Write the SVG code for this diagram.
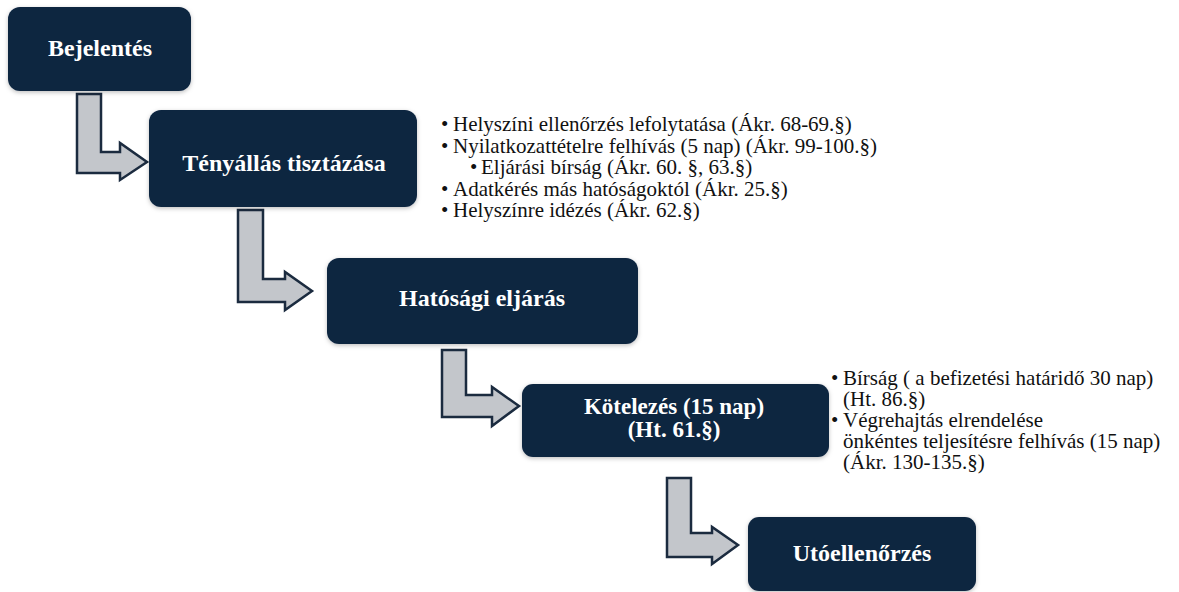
<svg xmlns="http://www.w3.org/2000/svg" width="1179" height="592" viewBox="0 0 1179 592">
<style>
.box{fill:#0d2641;}
.bt{font-family:"Liberation Serif","Times New Roman",serif;font-weight:bold;font-size:24px;fill:#ffffff;text-anchor:middle;}
.bt2{font-size:23px;}
.arr{fill:#c3c6cb;stroke:#1b2b3f;stroke-width:2.5;stroke-linejoin:miter;}
.tx{font-family:"Liberation Serif","Times New Roman",serif;font-size:21px;fill:#111111;}
</style>
<defs>
<filter id="sh" x="-10%" y="-10%" width="120%" height="130%">
<feDropShadow dx="0" dy="1.5" stdDeviation="2" flood-color="#000" flood-opacity="0.25"/>
</filter>
</defs>
<rect width="1179" height="592" fill="#ffffff"/>
<g id="connectors">
<path class="arr" d="M77,94 H101 V152 H120 V143 L147,162 L120,180 V173 H77 Z"/>
<path class="arr" d="M238,210 H263 V279 H285 V272 L312,291 L285,310 V302 H238 Z"/>
<path class="arr" d="M442,350 H466 V395 H492 V387 L519,406 L492,426 V417 H442 Z"/>
<path class="arr" d="M667,478 H691 V533 H712 V527 L738,545 L712,564 V557 H667 Z"/>
</g>
<g id="node-bejelentes">
<rect class="box" x="8" y="7" width="183" height="84" rx="12" filter="url(#sh)"/>
<text class="bt" x="100" y="56">Bejelentés</text>
</g>
<g id="node-tenyallas">
<rect class="box" x="149" y="110" width="268" height="97" rx="12" filter="url(#sh)"/>
<text class="bt" x="284" y="171">Tényállás tisztázása</text>
</g>
<g id="node-hatosagi">
<rect class="box" x="327" y="258" width="311" height="86" rx="12" filter="url(#sh)"/>
<text class="bt" x="482" y="306">Hatósági eljárás</text>
</g>
<g id="node-kotelezes">
<rect class="box" x="522" y="384" width="307" height="73" rx="11" filter="url(#sh)"/>
<text class="bt bt2"><tspan x="674" y="414">Kötelezés (15 nap)</tspan><tspan x="674" y="437">(Ht. 61.§)</tspan></text>
</g>
<g id="node-utoellenorzes">
<rect class="box" x="748" y="517" width="228" height="74" rx="11" filter="url(#sh)"/>
<text class="bt" x="862" y="561">Utóellenőrzés</text>
</g>
<g id="notes-tenyallas">
<text class="tx"><tspan x="441" y="131">•</tspan><tspan x="453" y="131">Helyszíni ellenőrzés lefolytatása (Ákr. 68-69.§)</tspan><tspan x="441" y="152.5">•</tspan><tspan x="453" y="152.5">Nyilatkozattételre felhívás (5 nap) (Ákr. 99-100.§)</tspan><tspan x="470" y="174">•</tspan><tspan x="481" y="174">Eljárási bírság (Ákr. 60. §, 63.§)</tspan><tspan x="441" y="195.5">•</tspan><tspan x="453" y="195.5">Adatkérés más hatóságoktól (Ákr. 25.§)</tspan><tspan x="441" y="217">•</tspan><tspan x="453" y="217">Helyszínre idézés (Ákr. 62.§)</tspan></text>
</g>
<g id="notes-kotelezes">
<text class="tx"><tspan x="831" y="385">•</tspan><tspan x="843" y="385">Bírság ( a befizetési határidő 30 nap)</tspan><tspan x="843" y="406">(Ht. 86.§)</tspan><tspan x="831" y="427">•</tspan><tspan x="843" y="427">Végrehajtás elrendelése</tspan><tspan x="843" y="448">önkéntes teljesítésre felhívás (15 nap)</tspan><tspan x="843" y="469">(Ákr. 130-135.§)</tspan></text>
</g>
</svg>
